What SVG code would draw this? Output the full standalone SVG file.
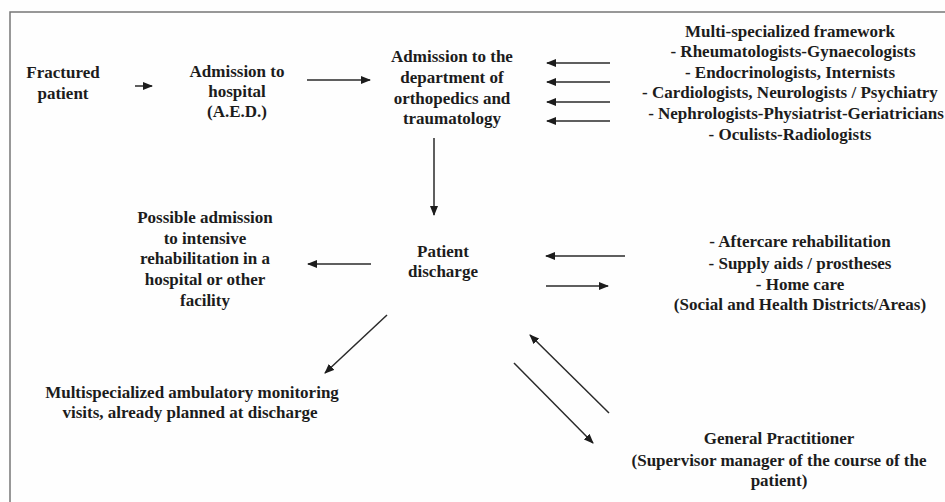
<svg xmlns="http://www.w3.org/2000/svg" width="945" height="502" viewBox="0 0 945 502">
<style>
text{font-family:"Liberation Serif","Times New Roman",serif;font-weight:bold;font-size:17px;fill:#1c1c1c;text-anchor:middle}
.c{stroke:#2a2a2a;stroke-width:1.5;fill:none;marker-end:url(#ah)}
</style>
<defs>
<marker id="ah" markerUnits="userSpaceOnUse" viewBox="0 0 10 8" refX="9" refY="4" markerWidth="10" markerHeight="8" orient="auto">
<path d="M0,0 L10,4 L0,8 Z" fill="#1c1c1c"/>
</marker>
</defs>
<rect x="0" y="0" width="945" height="502" fill="#fefefe"/>
<rect x="10" y="12" width="945" height="500" fill="none" stroke="#777" stroke-width="1.5"/>
<g id="fractured"><text x="63" y="78">Fractured</text><text x="63" y="99">patient</text></g>
<g id="admission-hospital"><text x="237" y="77">Admission to</text><text x="237" y="97">hospital</text><text x="237" y="117">(A.E.D.)</text></g>
<g id="admission-dept"><text x="452" y="62">Admission to the</text><text x="452" y="83">department of</text><text x="452" y="104">orthopedics and</text><text x="452" y="124">traumatology</text></g>
<g id="framework"><text x="790" y="37">Multi-specialized framework</text><text x="793" y="57">- Rheumatologists-Gynaecologists</text><text x="790" y="78">- Endocrinologists, Internists</text><text x="790" y="98">- Cardiologists, Neurologists / Psychiatry</text><text x="796" y="119">- Nephrologists-Physiatrist-Geriatricians</text><text x="790" y="140">- Oculists-Radiologists</text></g>
<g id="discharge"><text x="443" y="257">Patient</text><text x="443" y="277">discharge</text></g>
<g id="intensive"><text x="205" y="223">Possible admission</text><text x="205" y="244">to intensive</text><text x="205" y="264">rehabilitation in a</text><text x="205" y="285">hospital or other</text><text x="205" y="306">facility</text></g>
<g id="aftercare"><text x="800" y="247">- Aftercare rehabilitation</text><text x="800" y="269">- Supply aids / prostheses</text><text x="800" y="290">- Home care</text><text x="800" y="310">(Social and Health Districts/Areas)</text></g>
<g id="ambulatory"><text x="192" y="398">Multispecialized ambulatory monitoring</text><text x="190" y="418">visits, already planned at discharge</text></g>
<g id="gp"><text x="779" y="444">General Practitioner</text><text x="779" y="466">(Supervisor manager of the course of the</text><text x="779" y="486">patient)</text></g>
<g id="connectors">
<line class="c" x1="135" y1="86" x2="152" y2="86"/>
<line class="c" x1="307" y1="80" x2="370" y2="80"/>
<line class="c" x1="610" y1="63" x2="547" y2="63"/>
<line class="c" x1="610" y1="82" x2="547" y2="82"/>
<line class="c" x1="610" y1="102" x2="547" y2="102"/>
<line class="c" x1="610" y1="121" x2="547" y2="121"/>
<line class="c" x1="434" y1="138" x2="434" y2="215"/>
<line class="c" x1="371" y1="264" x2="308" y2="264"/>
<line class="c" x1="625" y1="256" x2="546" y2="256"/>
<line class="c" x1="546" y1="286" x2="608" y2="286"/>
<line class="c" x1="387" y1="315" x2="325" y2="373"/>
<line class="c" x1="609" y1="413" x2="530" y2="335"/>
<line class="c" x1="514" y1="363" x2="593" y2="443"/>
</g>
</svg>
